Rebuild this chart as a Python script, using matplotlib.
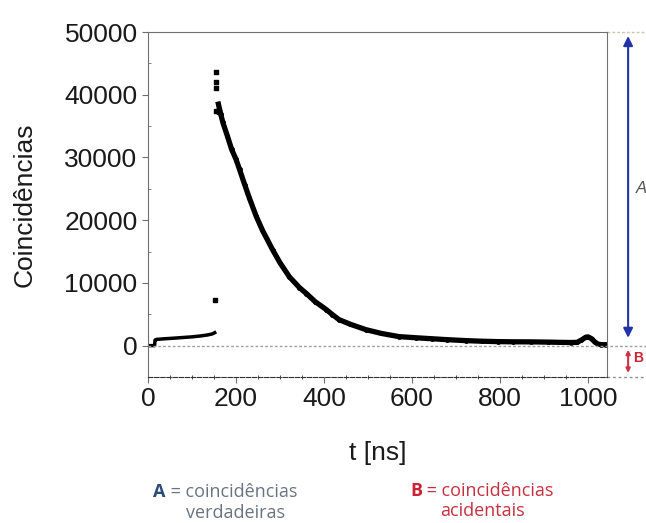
import numpy as np
import matplotlib
matplotlib.use("Agg")
from matplotlib import pyplot as plt
from matplotlib import transforms

plt.rcParams['font.family'] = ['Liberation Sans', 'DejaVu Sans']

# Dados
t_antes = [0, 5, 10, 15, 16, 20, 35, 50, 65, 80, 100, 120, 135, 145, 150, 155]
y_antes = [0, 0, 0, 0, 900, 1000, 1080, 1150, 1220, 1300, 1400, 1550, 1700, 1850, 2000, 2200]

t_pico = [152, 154, 154, 155, 154, 158, 162]
y_pico = [7200, 43600, 42000, 41000, 37400, 37400, 37300]

t_decai = [160, 165, 170, 180, 190, 200, 208, 220, 230, 246, 260, 283, 300, 321,
           344, 360, 380, 405, 419, 434, 460, 495, 530, 570, 610, 645, 680, 722,
           760, 796, 830, 871, 910, 940, 962, 975, 985, 995, 1000, 1008, 1015,
           1022, 1030, 1040]
y_decai = [38500, 37000, 35600, 33500, 31300, 29700, 28100, 25600, 23600, 20600,
           18400, 15300, 13200, 11000, 9260, 8300, 7000, 5750, 4950, 4150, 3400,
           2550, 1950, 1440, 1250, 1100, 950, 800, 700, 640, 610, 600, 560, 520,
           500, 520, 900, 1350, 1400, 1100, 600, 250, 160, 150]

y_ticks = [0, 10000, 20000, 30000, 40000, 50000]
x_ticks = [0, 200, 400, 600, 800, 1000]

fig = plt.figure(figsize=(6.46, 5.23), dpi=100)
ax = fig.add_axes([148/646, 1 - 377/523, (607 - 148)/646, (377 - 32)/523])

cinza = "#707070"
for lado in ["left", "top", "right"]:
    ax.spines[lado].set_color(cinza)
ax.spines["bottom"].set_color("#303030")
ax.spines["bottom"].set_linestyle((0, (4, 1.5)))

# curva
ax.plot(t_antes, y_antes, color="black", linewidth=2.5, solid_capstyle="butt")
ax.plot(t_decai, y_decai, color="black", linewidth=3.8, marker="o", markersize=2.5)
ax.scatter(t_pico, y_pico, color="black", s=12, marker="s", zorder=3)

misto = transforms.blended_transform_factory(ax.transAxes, ax.transData)

# linhas tracejadas no zero e no topo
ax.plot([0, 1.12], [0, 0], color="#a0a0a0", linestyle=(0, (2, 1.5)), linewidth=1,
        transform=misto, clip_on=False)
ax.plot([1.0, 1.12], [50000, 50000], color="#c8c8b0", linestyle=(0, (2, 1.5)),
        linewidth=1, transform=misto, clip_on=False)
ax.plot([1.0, 1.12], [-5000, -5000], color="#909090", linestyle=(0, (2, 2)),
        linewidth=1, transform=misto, clip_on=False)

ax.set_xlim(0, 1043)
ax.set_ylim(-5000, 50000)
ax.set_xticks(x_ticks)
ax.set_yticks(y_ticks)
ax.set_xticks(np.arange(0, 1043, 50), minor=True)
ax.set_yticks(np.arange(-5000, 50001, 5000), minor=True)
ax.tick_params(axis="both", which="major", labelsize=19, color=cinza, length=4,
               direction="out", labelcolor="#1a1a1a")
ax.tick_params(axis="y", which="minor", length=2, direction="in", color=cinza)
ax.tick_params(axis="x", which="minor", length=3, direction="inout", color="#303030")
ax.tick_params(axis="x", pad=3)

ax.set_ylabel("Coincidências", fontsize=19, color="#1a1a1a", labelpad=20)
ax.set_xlabel("t [ns]", fontsize=19, color="#1a1a1a", labelpad=22)

# setas A e B
ax.annotate("", xy=(1.046, 49800), xytext=(1.046, 800), xycoords=misto, textcoords=misto,
            arrowprops=dict(arrowstyle="<|-|>", color="#2233aa", lw=1.5, mutation_scale=14),
            annotation_clip=False)
ax.annotate("", xy=(1.046, -200), xytext=(1.046, -4800), xycoords=misto, textcoords=misto,
            arrowprops=dict(arrowstyle="<|-|>", color="#cc3344", lw=1.5, mutation_scale=6),
            annotation_clip=False)
ax.text(1.063, 25000, "A", transform=misto, fontsize=12, color="#555555",
        style="italic", va="center", clip_on=False)
ax.text(1.058, -2000, "B", transform=misto, fontsize=10, color="#cc2233",
        fontweight="bold", va="center", clip_on=False)

# legendas em baixo
fonte = ["Open Sans", "DejaVu Sans"]
fig.text(153/646, 1 - 492/523, "A", fontsize=13, color="#2a4a7a", fontweight="bold",
         va="center", family=fonte)
fig.text(166/646, 1 - 492/523, " = coincidências", fontsize=13, color="#6a7480",
         va="center", family=fonte)
fig.text(236/646, 1 - 513/523, "verdadeiras", fontsize=13, color="#6a7480",
         va="center", ha="center", family=fonte)
fig.text(410/646, 1 - 491/523, "B", fontsize=13, color="#cc2233", fontweight="bold",
         va="center", family=fonte)
fig.text(422/646, 1 - 491/523, " = coincidências", fontsize=13, color="#c43040",
         va="center", family=fonte)
fig.text(482/646, 1 - 511/523, "acidentais", fontsize=13, color="#c43040",
         va="center", ha="center", family=fonte)

fig.savefig("out.png", dpi=100)
